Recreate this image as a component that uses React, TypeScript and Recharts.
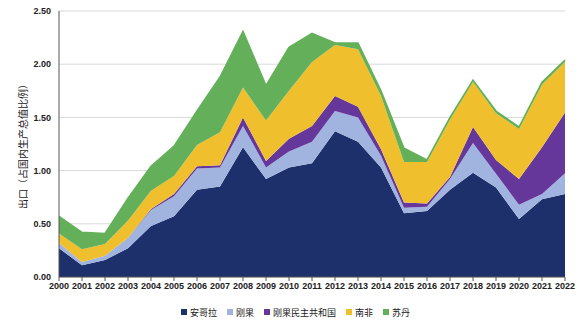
import React from "react";
import { AreaChart, Area, XAxis, YAxis, CartesianGrid, Legend } from "recharts";

const years = ["2000","2001","2002","2003","2004","2005","2006","2007","2008","2009","2010","2011","2012","2013","2014","2015","2016","2017","2018","2019","2020","2021","2022"];
// cumulative tops
const cumAngola = [0.27,0.11,0.16,0.27,0.48,0.57,0.82,0.85,1.22,0.92,1.03,1.07,1.37,1.27,1.03,0.60,0.62,0.82,0.98,0.84,0.545,0.73,0.78];
const cumCongo  = [0.32,0.14,0.20,0.37,0.63,0.76,1.02,1.03,1.42,1.03,1.18,1.27,1.56,1.50,1.14,0.65,0.66,0.92,1.26,0.97,0.68,0.78,0.975];
const cumDRC    = [0.32,0.14,0.20,0.37,0.64,0.78,1.04,1.05,1.50,1.09,1.30,1.42,1.70,1.60,1.20,0.70,0.69,0.94,1.41,1.10,0.92,1.22,1.545];
const cumSA     = [0.41,0.26,0.31,0.53,0.81,0.95,1.24,1.36,1.78,1.47,1.75,2.02,2.18,2.14,1.70,1.08,1.08,1.48,1.835,1.54,1.39,1.81,2.02];
const cumSudan  = [0.57,0.42,0.41,0.74,1.04,1.23,1.56,1.88,2.31,1.80,2.16,2.29,2.20,2.20,1.75,1.21,1.10,1.50,1.85,1.56,1.41,1.83,2.04];

const seriesNames = ["安哥拉", "刚果", "刚果民主共和国", "南非", "苏丹"];
const colors = ["#1D306B", "#A1B4E0", "#66379B", "#F0BF2E", "#64B05A"];
const yTicks = [0, 0.5, 1, 1.5, 2, 2.5];
const yLabel = "出口（占国内生产总值比例）";

const r = (v: number) => Math.round(v * 1000) / 1000;
const data = years.map((y, i) => ({
  year: y,
  [seriesNames[0]]: cumAngola[i],
  [seriesNames[1]]: r(cumCongo[i] - cumAngola[i]),
  [seriesNames[2]]: r(cumDRC[i] - cumCongo[i]),
  [seriesNames[3]]: r(cumSA[i] - cumDRC[i]),
  [seriesNames[4]]: r(cumSudan[i] - cumSA[i]),
}));

const tickFont = { fontFamily: "Liberation Sans, Arial, sans-serif", fontSize: 9, fill: "#222", fontWeight: 700 };

const renderLegend = () => (
  <div style={{ display: "flex", justifyContent: "center", alignItems: "center", height: 14, paddingLeft: 6, fontFamily: "Noto Sans CJK SC, sans-serif", fontSize: 9, color: "#222" }}>
    {seriesNames.map((n, i) => (
      <div key={n} style={{ display: "flex", alignItems: "center", marginLeft: i === 0 ? 0 : 10 }}>
        <div style={{ width: 6, height: 6, background: colors[i], marginRight: 3 }} />
        <span>{n}</span>
      </div>
    ))}
  </div>
);

const renderYLabel = (props: any) => {
  const vb = props.viewBox || {};
  const cx = 22;
  const cy = (vb.y ?? 11) + (vb.height ?? 266) / 2;
  return (
    <text x={cx} y={cy} transform={`rotate(-90 ${cx} ${cy})`} textAnchor="middle" dominantBaseline="central"
      style={{ fontFamily: "Noto Sans CJK SC, sans-serif", fontSize: 10, fill: "#222" }}>
      {yLabel}
    </text>
  );
};

export default function App() {
  return (
    <div style={{ position: "absolute", left: 0, top: 0, width: 585, height: 325, background: "#fff" }}>
      <AreaChart width={585} height={325} data={data} margin={{ top: 11, right: 20, bottom: 0, left: 0 }}>
        <CartesianGrid vertical={false} stroke="#d9d9d9" strokeWidth={1} />
        <XAxis dataKey="year" tick={tickFont} tickLine={{ stroke: "#555" }} tickSize={4} axisLine={{ stroke: "#555" }} height={22} interval={0} />
        <YAxis
          domain={[0, 2.5]}
          ticks={yTicks}
          tickFormatter={(v: number) => v.toFixed(2)}
          tick={tickFont}
          tickLine={false}
          axisLine={{ stroke: "#555" }}
          width={59}
          label={renderYLabel}
        />
        <Legend verticalAlign="bottom" height={26} content={renderLegend} wrapperStyle={{ top: 305, left: 0, width: 585, bottom: "auto" }} />
        {seriesNames.map((n, i) => (
          <Area key={n} type="linear" dataKey={n} stackId="1" stroke={colors[i]} strokeWidth={i === 4 ? 1.5 : 0} fill={colors[i]} fillOpacity={1} isAnimationActive={false} />
        ))}
      </AreaChart>
    </div>
  );
}
